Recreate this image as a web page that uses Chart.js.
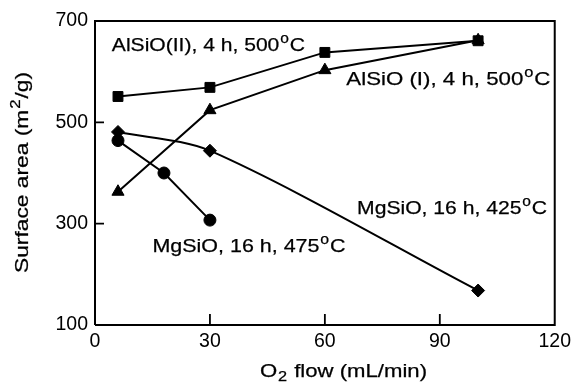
<!DOCTYPE html>
<html>
<head>
<meta charset="utf-8">
<script src="https://cdn.jsdelivr.net/npm/chart.js@4.4.1/dist/chart.umd.min.js"></script>
<style>
  html, body { margin: 0; padding: 0; background: #fff; }
  #wrap { width: 576px; height: 387px; position: relative; }
</style>
</head>
<body>
<div id="wrap"><canvas id="c" width="576" height="387"></canvas></div>
<script>
// ---- data ----
const xTicks = [0, 30, 60, 90, 120];
const yTicks = [100, 300, 500, 700];

const alsio2X = [6, 30, 60, 100];
const alsio2Y = [551, 569, 638, 661];

const alsio1X = [6, 30, 60, 100];
const alsio1Y = [363, 524, 603, 662];

const mg425X = [6, 30, 100];
const mg425Y = [481, 444, 168];

const mg475X = [6, 18, 30];
const mg475Y = [464, 400, 307];

const seriesLabels = [
  'AlSiO(II), 4 h, 500°C',
  'AlSiO (I), 4 h, 500°C',
  'MgSiO, 16 h, 425°C',
  'MgSiO, 16 h, 475°C'
];

function pts(xs, ys) { return xs.map((x, i) => ({ x: x, y: ys[i] })); }

const FONT = '"Liberation Sans", Arial, Helvetica, sans-serif';

function degParts(label) {
  const i = label.indexOf('°');
  return [[label.slice(0, i), 'n'], ['o', 'sup'], [label.slice(i + 1), 'n']];
}

function drawParts(ctx, parts, size, targetW) {
  const small = Math.round(size * 0.72);
  let total = 0;
  const widths = parts.map(p => {
    ctx.font = (p[1] === 'n' ? size : small) + 'px ' + FONT;
    const w = ctx.measureText(p[0]).width + (p[1] === 'n' ? 0 : 1.5);
    total += w;
    return w;
  });
  const s = targetW ? targetW / total : 1;
  ctx.save();
  ctx.scale(s, 1);
  ctx.lineWidth = 0.25;
  ctx.strokeStyle = '#000';
  let x = 0;
  parts.forEach((p, k) => {
    ctx.font = (p[1] === 'n' ? size : small) + 'px ' + FONT;
    let dy = 0;
    if (p[1] === 'sup') dy = -size * 0.4;
    if (p[1] === 'sub') dy = size * 0.2;
    const ox = p[1] === 'n' ? 0 : 0.75;
    ctx.fillText(p[0], x + ox, dy);
    ctx.strokeText(p[0], x + ox, dy);
    x += widths[k];
  });
  ctx.restore();
  return total * s;
}

// annotation placement: [seriesIndex, data x (left edge), data y (baseline), width px]
const annotPlace = [
  [0, 4.4, 641, 193],
  [1, 65.6, 574, 204],
  [3, 15.0, 245, 193],
  [2, 68.4, 320, 190]
];

const decorPlugin = {
  id: 'decor',
  afterDraw(chart) {
    const ctx = chart.ctx;
    const a = chart.chartArea;
    const xs = chart.scales.x, ys = chart.scales.y;
    ctx.save();
    ctx.strokeStyle = '#000';
    ctx.lineWidth = 2;
    ctx.beginPath();
    ctx.moveTo(a.left, a.bottom);
    ctx.lineTo(a.left, a.top);
    ctx.lineTo(a.right, a.top);
    ctx.lineTo(a.right, a.bottom);
    ctx.lineTo(a.left, a.bottom);
    ctx.stroke();
    ctx.lineWidth = 1.8;
    ctx.beginPath();
    xTicks.forEach(v => {
      if (v === xTicks[0] || v === xTicks[xTicks.length - 1]) return;
      const px = xs.getPixelForValue(v);
      ctx.moveTo(px, a.bottom);
      ctx.lineTo(px, a.bottom - 11);
    });
    yTicks.forEach(v => {
      if (v === yTicks[0] || v === yTicks[yTicks.length - 1]) return;
      const py = ys.getPixelForValue(v);
      ctx.moveTo(a.left, py);
      ctx.lineTo(a.left + 9, py);
    });
    ctx.stroke();

    ctx.fillStyle = '#000';
    ctx.textBaseline = 'alphabetic';
    ctx.textAlign = 'left';
    annotPlace.forEach(p => {
      const lbl = seriesLabels[p[0]];
      ctx.save();
      ctx.translate(xs.getPixelForValue(p[1]), ys.getPixelForValue(p[2]));
      drawParts(ctx, degParts(lbl), 19, p[3]);
      ctx.restore();
    });

    ctx.save();
    const xParts = [['O', 'n'], ['2', 'sub'], [' flow (mL/min)', 'n']];
    ctx.translate(260, 377);
    drawParts(ctx, xParts, 19, 167);
    ctx.restore();

    ctx.save();
    const yParts = [['Surface area (m', 'n'], ['2', 'sup'], ['/g)', 'n']];
    ctx.translate(28, 273);
    ctx.rotate(-Math.PI / 2);
    drawParts(ctx, yParts, 19, 201);
    ctx.restore();

    ctx.restore();
  }
};

const common = {
  borderColor: '#000',
  backgroundColor: '#000',
  pointBackgroundColor: '#000',
  pointBorderColor: '#000',
  borderWidth: 2,
  pointBorderWidth: 1,
  clip: false,
  fill: false
};

new Chart(document.getElementById('c'), {
  type: 'scatter',
  data: {
    datasets: [
      Object.assign({ label: seriesLabels[0], data: pts(alsio2X, alsio2Y), showLine: true, pointStyle: 'rect', pointRadius: 7, tension: 0 }, common),
      Object.assign({ label: seriesLabels[1], data: pts(alsio1X, alsio1Y), showLine: true, pointStyle: 'triangle', pointRadius: 7, tension: 0 }, common),
      Object.assign({ label: seriesLabels[2], data: pts(mg425X, mg425Y), showLine: true, pointStyle: 'rectRot', pointRadius: 6.5, tension: 0.3 }, common),
      Object.assign({ label: seriesLabels[3], data: pts(mg475X, mg475Y), showLine: true, pointStyle: 'circle', pointRadius: 6, tension: 0 }, common)
    ]
  },
  options: {
    responsive: false,
    animation: false,
    devicePixelRatio: 1,
    layout: { padding: { left: 0, top: 21, right: 17, bottom: 0 } },
    plugins: { legend: { display: false }, tooltip: { enabled: false } },
    scales: {
      x: {
        type: 'linear',
        min: 0, max: 120,
        afterBuildTicks(scale) { scale.ticks = xTicks.map(v => ({ value: v })); },
        afterFit(scale) { scale.height = 62; },
        grid: { display: false, drawTicks: false },
        border: { display: false },
        ticks: { color: '#000', font: { family: FONT, size: 19.5 }, padding: 5, maxRotation: 0 }
      },
      y: {
        type: 'linear',
        min: 100, max: 700,
        afterBuildTicks(scale) { scale.ticks = yTicks.map(v => ({ value: v })); },
        afterFit(scale) { scale.width = 95; },
        grid: { display: false, drawTicks: false },
        border: { display: false },
        ticks: { color: '#000', font: { family: FONT, size: 19.5 }, padding: 7 }
      }
    }
  },
  plugins: [decorPlugin]
});
</script>
</body>
</html>
